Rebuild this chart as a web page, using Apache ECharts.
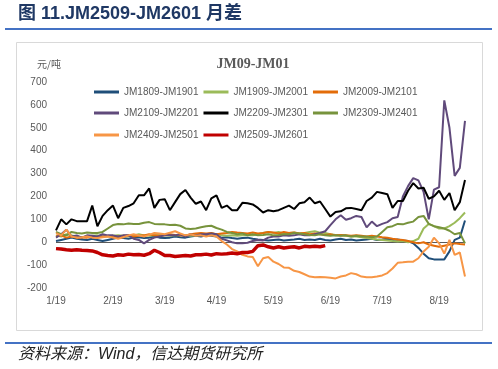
<!DOCTYPE html>
<html><head><meta charset="utf-8">
<script src="https://cdn.jsdelivr.net/npm/echarts@6/dist/echarts.min.js"></script>
<style>html,body{margin:0;padding:0;background:#fff}#c{width:498px;height:369px}</style>
</head><body><div id="c"></div>
<script>
// x positions: trading-day samples (every ~2 trading days) from 1/19 to late 8/19
var days = [];
for (var k = 0; k < 80; k++) days.push(String(k));
var tickLabels = ['1/19','2/19','3/19','4/19','5/19','6/19','7/19','8/19'];
var tickIdx = [0, 11, 21, 31, 42, 53, 63, 74];
var yTicks = [-200, -100, 0, 100, 200, 300, 400, 500, 600, 700];

var s1809 = [5,10,15,20,15,12,10,15,10,5,10,15,20,18,15,20,22,18,20,25,20,18,20,25,22,20,25,28,25,30,28,25,20,22,18,15,18,20,15,12,10,8,10,12,8,10,12,15,10,12,10,15,10,8,12,15,10,12,8,10,12,15,10,12,15,10,12,8,5,-5,-25,-50,-70,-75,-75,-75,-40,10,20,95];
var s1909 = [30,25,35,30,25,20,25,28,30,25,25,28,30,28,25,30,35,30,28,30,32,30,28,30,32,30,28,30,32,35,38,35,30,28,30,28,30,32,30,35,40,45,40,45,38,40,42,38,40,45,48,42,40,35,32,30,28,25,25,22,18,15,12,10,8,5,3,5,0,5,15,60,80,70,60,60,70,85,105,130];
var s2009 = [25,30,20,25,20,22,20,25,20,25,28,22,25,28,30,25,28,30,35,30,28,30,35,32,30,28,35,38,40,38,40,35,38,40,45,42,40,38,42,38,40,45,42,38,45,40,42,38,40,35,38,35,32,35,30,32,30,28,30,28,25,28,25,22,20,15,12,10,5,0,-5,0,-10,-15,-20,-15,-10,-5,-8,-10];
var s2109 = [20,35,55,25,30,20,30,28,25,35,30,30,25,30,30,15,10,-5,10,20,25,30,30,30,35,25,35,30,35,35,38,35,15,8,0,-5,-5,-2,5,10,8,20,25,25,30,28,30,35,30,30,35,40,48,75,100,118,98,105,115,110,65,90,70,80,88,105,110,200,245,280,270,220,100,230,240,620,500,290,325,530];
var s2209 = [52,100,78,100,92,92,92,160,70,115,140,160,105,150,158,170,205,205,235,150,185,188,140,175,210,228,195,168,178,140,192,205,150,160,140,140,172,170,165,150,130,140,135,140,150,160,145,170,175,195,170,178,145,112,132,135,148,150,145,140,180,195,220,215,210,150,180,180,225,258,235,238,190,200,225,185,215,140,175,272];
var s2309 = [45,35,30,45,40,38,42,40,40,45,60,75,80,78,82,80,80,85,88,80,78,78,75,76,72,60,58,60,65,70,72,62,55,45,40,35,38,30,35,30,32,35,30,32,35,35,40,38,35,32,30,35,30,28,30,28,30,25,28,25,25,22,25,45,65,70,80,78,85,90,110,115,80,70,65,60,50,35,40,-5];
var s2409 = [40,30,55,25,20,22,25,20,18,22,25,20,15,22,30,35,30,25,32,40,38,35,42,48,38,30,35,28,30,25,30,25,5,-10,-30,-40,-55,-62,-65,-105,-70,-65,-85,-95,-110,-112,-125,-130,-140,-150,-153,-152,-153,-155,-158,-150,-145,-135,-140,-150,-153,-153,-150,-145,-135,-115,-90,-88,-85,-85,-70,-40,-20,20,-5,-50,10,-55,-45,-150];
var s2509 = [-28,-30,-33,-35,-33,-35,-36,-38,-45,-55,-58,-60,-55,-57,-52,-55,-54,-57,-50,-35,-45,-58,-58,-62,-60,-58,-60,-55,-55,-52,-56,-50,-52,-50,-47,-50,-45,-45,-40,-15,-12,-20,-25,-20,-25,-22,-20,-25,-18,-20,-18,-20,-15];

var names = ['JM1809-JM1901','JM1909-JM2001','JM2009-JM2101','JM2109-JM2201','JM2209-JM2301','JM2309-JM2401','JM2409-JM2501','JM2509-JM2601'];
var datas = [s1809, s1909, s2009, s2109, s2209, s2309, s2409, s2509];
var colors = ['#1F4E79','#9BBB59','#E36C09','#604A7B','#000000','#77933C','#F79646','#C00000'];
var widths = [2, 2, 2, 2, 2, 2, 2, 3.5];

var chart = echarts.init(document.getElementById('c'), null, {renderer: 'canvas'});
var series = names.map(function (n, i) {
  var s = {
    name: n, type: 'line', data: datas[i], showSymbol: false, symbol: 'none',
    lineStyle: {color: colors[i], width: widths[i]}, itemStyle: {color: colors[i]},
    animation: false, z: i === 7 ? 5 : 3
  };
  if (i === 0) {
    s.markLine = {silent: true, symbol: 'none', label: {show: false},
      lineStyle: {color: '#595959', width: 1, type: 'solid'}, data: [{yAxis: 0}], animation: false, z: 1};
  }
  return s;
});

function legendRow(list, top) {
  return {
    data: list, top: top, left: 89, itemWidth: 25, itemHeight: 3, itemGap: 5, icon: 'rect',
    textStyle: {color: '#595959', fontSize: 10, fontFamily: 'Liberation Sans'}, selectedMode: false
  };
}

chart.setOption({
  backgroundColor: '#ffffff',
  animation: false,
  title: [
    {text: 'JM09-JM01', left: 248, top: 52, textAlign: 'center',
      textStyle: {fontFamily: 'Liberation Serif', fontWeight: 'bold', fontSize: 14, color: '#595959'}},
    {text: '元/吨', left: 32, top: 54,
      textStyle: {fontFamily: 'Noto Sans CJK SC', fontWeight: 'normal', fontSize: 10, color: '#595959'}}
  ],
  graphic: [
    {type: 'text', left: 18, top: 5, style: {text: '图 11.JM2509-JM2601 月差', fontSize: 18, fontWeight: 'bold',
      fontFamily: 'Liberation Sans, Noto Sans CJK SC', fill: '#1F3864'}},
    {type: 'rect', shape: {x: 5, y: 28, width: 487, height: 2}, style: {fill: '#4472C4'}},
    {type: 'rect', shape: {x: 16.5, y: 42.5, width: 466, height: 288}, style: {fill: 'none', stroke: '#D9D9D9', lineWidth: 1}},
    {type: 'rect', shape: {x: 5, y: 342, width: 487, height: 2}, style: {fill: '#4472C4'}},
    {type: 'text', left: 18, top: 347, style: {text: '资料来源：Wind，信达期货研究所', fontSize: 16, fontStyle: 'italic',
      fontFamily: 'Liberation Sans, Noto Sans CJK SC', fill: '#222222'}}
  ],
  legend: [
    legendRow(names.slice(0, 3), 82),
    legendRow(names.slice(3, 6), 103),
    legendRow(names.slice(6, 8), 125)
  ],
  grid: {left: 56, right: 33, top: 82, bottom: 81, containLabel: false},
  xAxis: {
    type: 'category', data: days, boundaryGap: false,
    axisLine: {show: false, onZero: false}, axisTick: {show: false}, splitLine: {show: false},
    axisLabel: {
      interval: 0, margin: 8, color: '#595959', fontSize: 10, fontFamily: 'Liberation Sans',
      formatter: function (v, idx) { var p = tickIdx.indexOf(idx); return p >= 0 ? tickLabels[p] : ''; }
    }
  },
  yAxis: {
    type: 'value', min: yTicks[0], max: yTicks[yTicks.length - 1], interval: 100,
    axisLine: {show: false}, axisTick: {show: false}, splitLine: {show: false},
    axisLabel: {color: '#595959', fontSize: 10, fontFamily: 'Liberation Sans', margin: 9}
  },
  series: series
});
</script></body></html>
